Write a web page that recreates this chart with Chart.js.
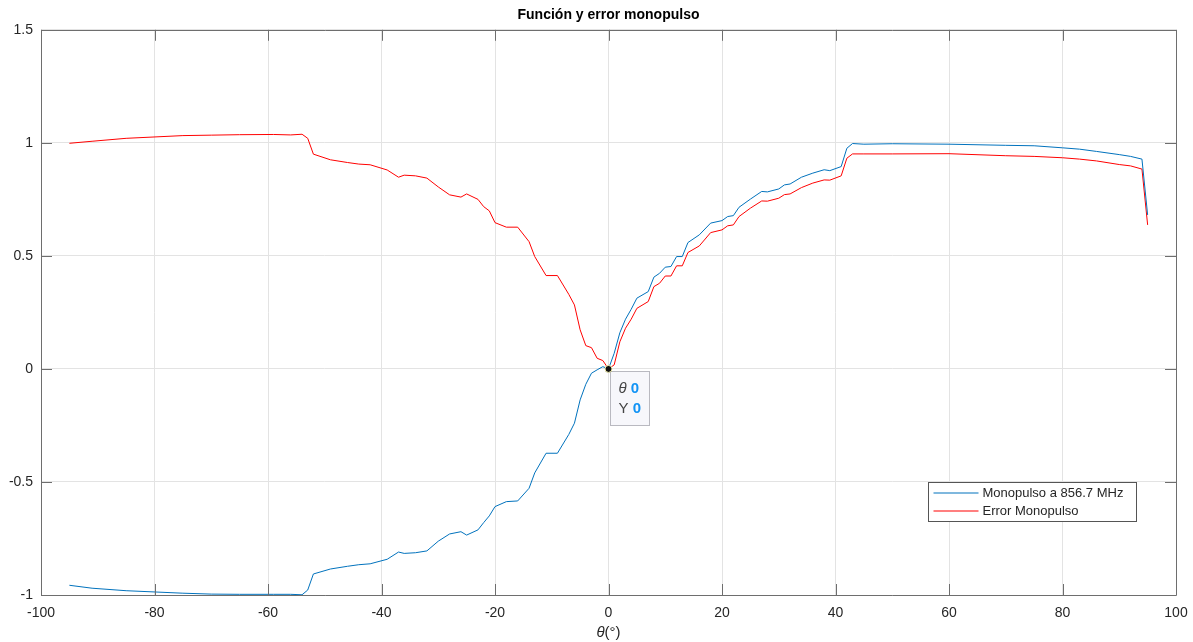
<!DOCTYPE html>
<html>
<head>
<meta charset="utf-8">
<script src="https://cdn.jsdelivr.net/npm/chart.js@4"></script>
<style>
  html, body { margin: 0; padding: 0; background: #fff; }
  canvas { display: block; }
</style>
</head>
<body>
<canvas id="monopulso" width="1193" height="642"></canvas>
<script>
// angles in degrees
const theta = [
  -95, -91, -85, -75, -70, -65, -59, -56, -54, -53, -52, -49, -46, -44, -42,
  -39, -37, -36, -34, -32, -30, -28, -26, -25, -23, -22, -21, -20, -18, -16,
  -14, -13, -11, -9, -7, -6, -5, -4, -3, -2, -1, 0, 1, 2, 3, 4, 5, 7, 8, 9,
  10, 11, 12, 13, 14, 16, 18, 20, 21, 22, 23, 25, 27, 28, 30, 31, 32, 34, 36,
  38, 39, 41, 42, 43, 45, 50, 60, 70, 75, 80, 83, 86, 90, 92, 94, 95
];

const monopulso = [
  -0.957, -0.970, -0.981, -0.992, -0.996, -0.997, -0.997, -0.997, -0.999, -0.978, -0.907, -0.885, -0.873, -0.866, -0.862,
  -0.842, -0.810, -0.816, -0.813, -0.805, -0.762, -0.730, -0.720, -0.735, -0.712, -0.680, -0.650, -0.609, -0.587, -0.584,
  -0.528, -0.460, -0.373, -0.373, -0.290, -0.240, -0.137, -0.068, -0.019, -0.004, 0.010, 0, 0.069, 0.160, 0.220, 0.264, 0.313, 0.342, 0.406, 0.423,
  0.450, 0.453, 0.497, 0.497, 0.559, 0.593, 0.645, 0.656, 0.674, 0.678, 0.715, 0.751, 0.785, 0.783, 0.796, 0.814, 0.818, 0.848, 0.866,
  0.881, 0.877, 0.895, 0.976, 0.997, 0.994, 0.996, 0.994, 0.989, 0.987, 0.978, 0.972, 0.962, 0.948, 0.940, 0.928, 0.681
];

const errorMonopulso = [
  0.998, 1.007, 1.020, 1.032, 1.034, 1.036, 1.037, 1.035, 1.038, 1.020, 0.950, 0.925, 0.913, 0.906, 0.903,
  0.880, 0.848, 0.857, 0.854, 0.844, 0.805, 0.770, 0.760, 0.774, 0.750, 0.718, 0.699, 0.647, 0.627, 0.627,
  0.563, 0.497, 0.413, 0.413, 0.330, 0.283, 0.173, 0.103, 0.094, 0.047, 0.037, 0, 0.018, 0.120, 0.180, 0.220, 0.268, 0.298, 0.364, 0.379,
  0.411, 0.411, 0.456, 0.456, 0.515, 0.544, 0.603, 0.615, 0.633, 0.637, 0.674, 0.711, 0.743, 0.742, 0.755, 0.771, 0.774, 0.802, 0.822,
  0.836, 0.835, 0.854, 0.932, 0.951, 0.951, 0.951, 0.952, 0.943, 0.940, 0.934, 0.928, 0.920, 0.904, 0.898, 0.884, 0.637
];

const xTicks = [-100, -80, -60, -40, -20, 0, 20, 40, 60, 80, 100];
const yTicks = [-1, -0.5, 0, 0.5, 1, 1.5];

const seriesNames = ['Monopulso a 856.7 MHz', 'Error Monopulso'];
const seriesColors = ['#0072BD', '#FF0000'];

// data tip pinned on the crossing point
const tipPoint = { x: 0, y: 0 };

const FONT = "'Liberation Sans', Arial, Helvetica, sans-serif";
const AXIS_COLOR = '#6e6e6e';
const TEXT_COLOR = '#262626';

function toPoints(ys) {
  return theta.map((t, i) => ({ x: t, y: ys[i] }));
}

// box around the axes with inward ticks on every side
const axesBox = {
  id: 'axesBox',
  afterDatasetsDraw(chart) {
    const { ctx, chartArea: a, scales } = chart;
    const len = 11;
    ctx.save();
    ctx.strokeStyle = AXIS_COLOR;
    ctx.lineWidth = 1;
    ctx.beginPath();
    ctx.rect(Math.round(a.left) + 0.5, Math.round(a.top) + 0.5,
      Math.round(a.right - a.left), Math.round(a.bottom - a.top));
    xTicks.forEach(v => {
      const px = Math.round(scales.x.getPixelForValue(v)) + 0.5;
      ctx.moveTo(px, a.bottom); ctx.lineTo(px, a.bottom - len);
      ctx.moveTo(px, a.top); ctx.lineTo(px, a.top + len);
    });
    yTicks.forEach(v => {
      const py = Math.round(scales.y.getPixelForValue(v)) + 0.5;
      ctx.moveTo(a.left, py); ctx.lineTo(a.left + len, py);
      ctx.moveTo(a.right, py); ctx.lineTo(a.right - len, py);
    });
    ctx.stroke();
    ctx.restore();
  }
};

// legend box, x label and data tip
const overlays = {
  id: 'overlays',
  afterDraw(chart) {
    const { ctx, chartArea: a, scales } = chart;
    ctx.save();

    // x axis label: italic theta followed by (°)
    ctx.textBaseline = 'middle';
    ctx.fillStyle = TEXT_COLOR;
    const cx = (a.left + a.right) / 2;
    ctx.font = 'italic 15px ' + FONT;
    const wTheta = ctx.measureText('θ').width;
    ctx.font = '15px ' + FONT;
    const wRest = ctx.measureText('(°)').width;
    const x0 = cx - (wTheta + wRest) / 2;
    ctx.textAlign = 'left';
    ctx.font = 'italic 15px ' + FONT;
    ctx.fillText('θ', x0, 633);
    ctx.font = '15px ' + FONT;
    ctx.fillText('(°)', x0 + wTheta, 633);

    // legend
    const lx = 928.5, ly = 482.5, lw = 208, lh = 39;
    ctx.fillStyle = '#fff';
    ctx.fillRect(lx, ly, lw, lh);
    ctx.strokeStyle = '#555';
    ctx.lineWidth = 1;
    ctx.strokeRect(lx, ly, lw, lh);
    ctx.font = '13px ' + FONT;
    seriesNames.forEach((name, i) => {
      const y = Math.round(ly + 10 + i * 18);
      ctx.strokeStyle = seriesColors[i];
      ctx.lineWidth = 1.2;
      ctx.beginPath();
      ctx.moveTo(lx + 5, y);
      ctx.lineTo(lx + 50, y);
      ctx.stroke();
      ctx.fillStyle = TEXT_COLOR;
      ctx.fillText(name, lx + 54, y);
    });

    // data tip
    const px = scales.x.getPixelForValue(tipPoint.x);
    const py = scales.y.getPixelForValue(tipPoint.y);
    const bx = Math.round(px) + 1.5, by = Math.round(py) + 2.5;
    ctx.lineWidth = 1;
    ctx.fillStyle = '#f7f7fb';
    ctx.strokeStyle = '#b9b9c0';
    ctx.fillRect(bx, by, 39, 54);
    ctx.strokeRect(bx, by, 39, 54);
    ctx.beginPath();
    ctx.arc(px, py, 3.5, 0, Math.PI * 2);
    ctx.fillStyle = '#111';
    ctx.fill();
    ctx.strokeStyle = '#f2f0b0';
    ctx.stroke();

    const rows = [['θ', 'italic 15px ', tipPoint.x], ['Y', '15px ', tipPoint.y]];
    rows.forEach((r, i) => {
      const ty = by + 17 + i * 20;
      ctx.font = r[1] + FONT;
      ctx.fillStyle = '#444';
      ctx.fillText(r[0] + ' ', bx + 8, ty);
      const w = ctx.measureText(r[0] + ' ').width;
      ctx.font = 'bold 15px ' + FONT;
      ctx.fillStyle = '#1193f5';
      ctx.fillText(String(r[2]), bx + 8 + w, ty);
    });

    ctx.restore();
  }
};

const ctx = document.getElementById('monopulso').getContext('2d');

new Chart(ctx, {
  type: 'line',
  data: {
    datasets: [
      {
        label: seriesNames[0],
        data: toPoints(monopulso),
        borderColor: seriesColors[0],
        borderWidth: 1,
        pointRadius: 0,
        tension: 0,
      },
      {
        label: seriesNames[1],
        data: toPoints(errorMonopulso),
        borderColor: seriesColors[1],
        borderWidth: 1,
        pointRadius: 0,
        tension: 0,
      },
    ],
  },
  options: {
    responsive: false,
    animation: false,
    layout: { padding: { left: 0, right: 17, top: 0, bottom: 0 } },
    scales: {
      x: {
        type: 'linear',
        min: -100,
        max: 100,
        afterBuildTicks: (scale) => { scale.ticks = xTicks.map(v => ({ value: v })); },
        afterFit: (scale) => {
          scale.height = 47;
          scale.paddingLeft = 0;
          scale.paddingRight = 0;
        },
        border: { display: false },
        grid: { color: '#e3e3e3', drawTicks: false },
        ticks: {
          padding: 10,
          color: TEXT_COLOR,
          font: { family: FONT, size: 14 },
          maxRotation: 0,
          callback: (v) => String(v),
        },
      },
      y: {
        type: 'linear',
        min: -1,
        max: 1.5,
        afterBuildTicks: (scale) => { scale.ticks = yTicks.map(v => ({ value: v })); },
        afterFit: (scale) => {
          scale.width = 41;
          scale.paddingTop = 0;
          scale.paddingBottom = 0;
        },
        border: { display: false },
        grid: { color: '#e3e3e3', drawTicks: false },
        ticks: {
          padding: 8,
          color: TEXT_COLOR,
          font: { family: FONT, size: 14 },
          callback: (v) => String(v),
        },
      },
    },
    plugins: {
      legend: { display: false },
      tooltip: { enabled: false },
      title: {
        display: true,
        fullSize: false,
        text: 'Función y error monopulso',
        color: '#000',
        font: { family: FONT, size: 14, weight: 'bold', lineHeight: 1.2 },
        padding: { top: 7, bottom: 6 },
      },
    },
  },
  plugins: [axesBox, overlays],
});
</script>
</body>
</html>
